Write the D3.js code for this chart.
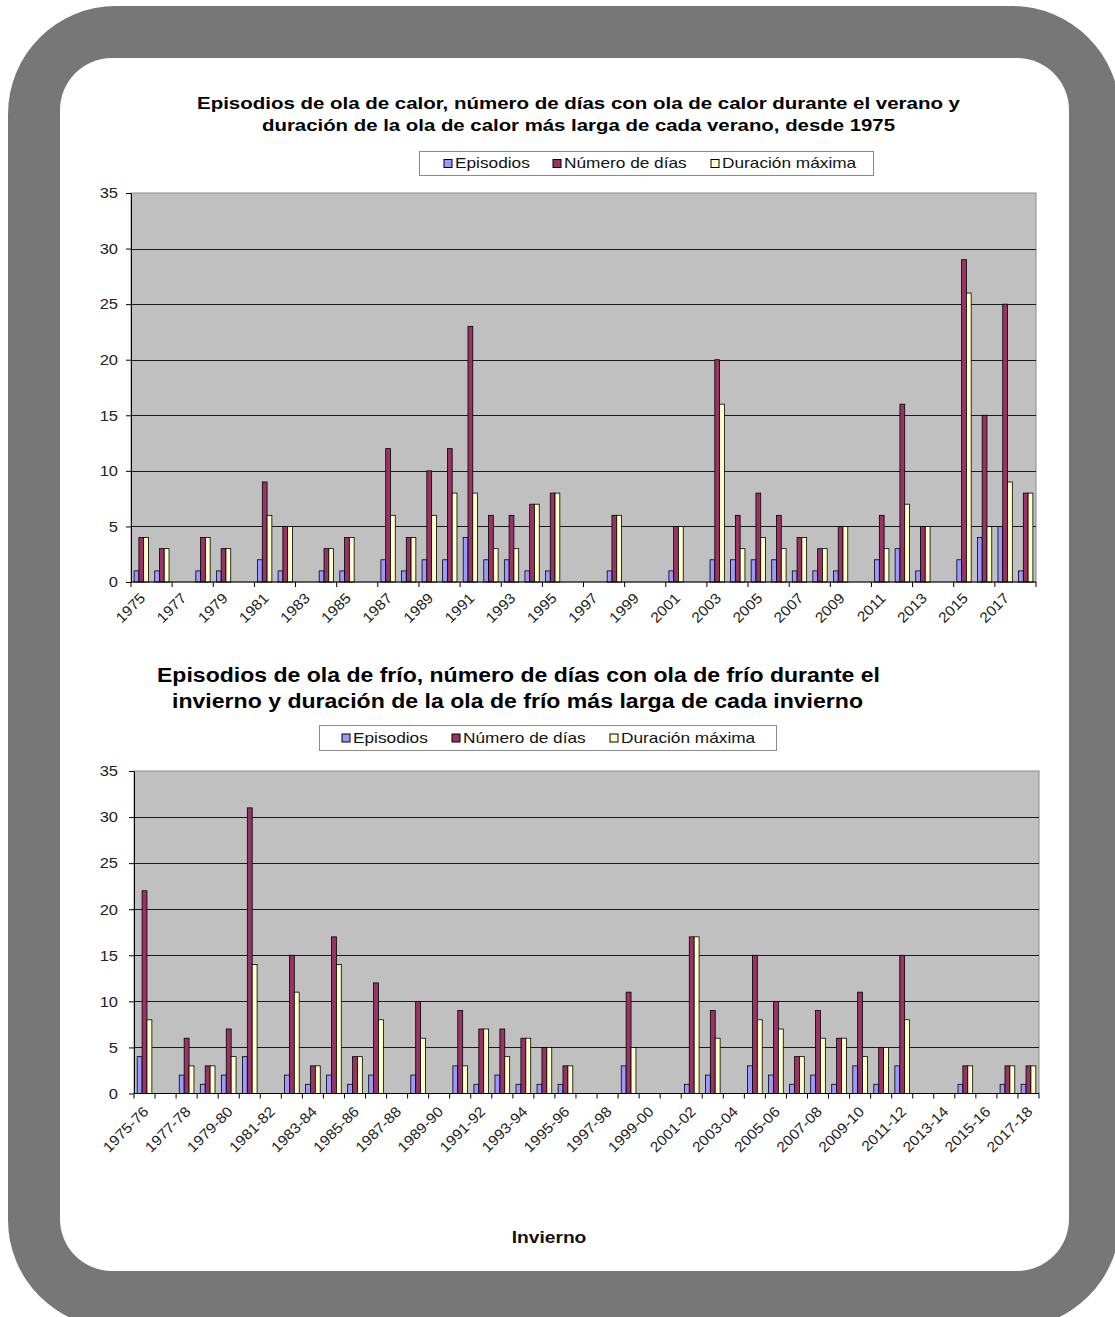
<!DOCTYPE html>
<html><head><meta charset="utf-8">
<script src="https://cdn.jsdelivr.net/npm/d3@7/dist/d3.min.js"></script>
<style>
body{margin:0;background:#fff}
svg{display:block}
text{font-family:"Liberation Sans",Arial,sans-serif}
</style>
</head><body>
<svg id="c" width="1115" height="1317"></svg>
<script>
// ---------------- DATA ----------------
const veranoYears = ["1975","1976","1977","1978","1979","1980","1981","1982","1983","1984","1985","1986","1987","1988","1989","1990","1991","1992","1993","1994","1995","1996","1997","1998","1999","2000","2001","2002","2003","2004","2005","2006","2007","2008","2009","2010","2011","2012","2013","2014","2015","2016","2017","2018"];
const veranoEpisodios = [1,1,null,1,1,null,2,1,null,1,1,null,2,1,2,2,4,2,2,1,1,null,null,1,null,null,1,null,2,2,2,2,1,1,1,null,2,3,1,null,2,4,5,1];
const veranoDias      = [4,3,null,4,3,null,9,5,null,3,4,null,12,4,10,12,23,6,6,7,8,null,null,6,null,null,5,null,20,6,8,6,4,3,5,null,6,16,5,null,29,15,25,8];
const veranoDuracion  = [4,3,null,4,3,null,6,5,null,3,4,null,6,4,6,8,8,3,3,7,8,null,null,6,null,null,5,null,16,3,4,3,4,3,5,null,3,7,5,null,26,5,9,8];

const inviernoYears = ["1975-76","1976-77","1977-78","1978-79","1979-80","1980-81","1981-82","1982-83","1983-84","1984-85","1985-86","1986-87","1987-88","1988-89","1989-90","1990-91","1991-92","1992-93","1993-94","1994-95","1995-96","1996-97","1997-98","1998-99","1999-00","2000-01","2001-02","2002-03","2003-04","2004-05","2005-06","2006-07","2007-08","2008-09","2009-10","2010-11","2011-12","2012-13","2013-14","2014-15","2015-16","2016-17","2017-18"];
const inviernoEpisodios = [4,null,2,1,2,4,null,2,1,2,1,2,null,2,null,3,1,2,1,1,1,null,null,3,null,null,1,2,null,3,2,1,2,1,3,1,3,null,null,1,null,1,1];
const inviernoDias      = [22,null,6,3,7,31,null,15,3,17,4,12,null,10,null,9,7,7,6,5,3,null,null,11,null,null,17,9,null,15,10,4,9,6,11,5,15,null,null,3,null,3,3];
const inviernoDuracion  = [8,null,3,3,4,14,null,11,3,14,4,8,null,6,null,3,7,4,6,5,3,null,null,5,null,null,17,6,null,8,7,4,6,6,4,5,8,null,null,3,null,3,3];

const yTicks = [0,5,10,15,20,25,30,35];
const seriesNames = ["Episodios","Número de días","Duración máxima"];
const seriesColors = ["#9999FF","#993366","#FFFFCC"];
const titleCalor = ["Episodios de ola de calor, número de días con ola de calor durante el verano y","duración de la ola de calor más larga de cada verano, desde 1975"];
const titleFrio = ["Episodios de ola de frío, número de días con ola de frío durante el","invierno y duración de la ola de frío más larga de cada invierno"];
const xTitleFrio = "Invierno";

// ---------------- DRAW ----------------
const svg = d3.select("#c");

function stretch(sel, k){
  sel.each(function(){
    const l = this.getComputedTextLength();
    this.setAttribute("textLength", l*k);
    this.setAttribute("lengthAdjust","spacingAndGlyphs");
  });
}

// frame
svg.append("rect").attr("x",8).attr("y",6).attr("width",1112).attr("height",1322)
  .attr("rx",108).attr("ry",108).attr("fill","#777777");
svg.append("rect").attr("x",60).attr("y",58).attr("width",1009).attr("height",1213)
  .attr("rx",52).attr("ry",52).attr("fill","#ffffff");

function drawChart(cfg){
  const g = svg.append("g");
  const {x0,x1,y0,y1} = cfg.plot;
  const x = d3.scaleBand().domain(cfg.cats).range([x0,x1]).paddingInner(0).paddingOuter(0);
  const y = d3.scaleLinear().domain([0,35]).range([y1,y0]);
  const step = x.step();
  const w = step/4.3;
  const off = (step-3*w)/2;

  g.append("rect").attr("x",x0).attr("y",y0).attr("width",x1-x0).attr("height",y1-y0)
    .attr("fill","#C0C0C0").attr("stroke","#8a8a8a").attr("stroke-width",1);

  g.append("g").selectAll("line").data(yTicks.filter(t=>t>0 && t<35)).join("line")
    .attr("x1",x0).attr("x2",x1)
    .attr("y1",d=>Math.round(y(d))+0.5).attr("y2",d=>Math.round(y(d))+0.5)
    .attr("stroke","#1a1a1a").attr("stroke-width",1.2);

  cfg.series.forEach((vals,s)=>{
    g.append("g").selectAll("rect")
      .data(vals.map((v,i)=>({v,c:cfg.cats[i]})).filter(d=>d.v!=null))
      .join("rect")
      .attr("x",d=>x(d.c)+off+s*w)
      .attr("y",d=>y(d.v))
      .attr("width",w)
      .attr("height",d=>y(0)-y(d.v))
      .attr("fill",seriesColors[s])
      .attr("stroke","#000").attr("stroke-width",0.8);
  });

  const ya = g.append("g").attr("transform",`translate(${x0},0)`)
    .call(d3.axisLeft(y).tickValues(yTicks).tickSize(5).tickPadding(cfg.yPad).tickSizeOuter(0));
  ya.select(".domain").attr("stroke","#000");
  ya.selectAll(".tick line").attr("stroke","#000");
  ya.selectAll("text").attr("font-family",'"Liberation Sans",Arial,sans-serif')
    .attr("font-size",15).attr("fill","#222");
  stretch(ya.selectAll("text"),1.1);

  g.append("line").attr("x1",x0).attr("x2",x1).attr("y1",y1).attr("y2",y1)
    .attr("stroke","#000").attr("stroke-width",1);
  const bounds = d3.range(0,cfg.cats.length+1,cfg.tickEvery);
  g.append("g").selectAll("line").data(bounds).join("line")
    .attr("x1",i=>x0+i*step).attr("x2",i=>x0+i*step)
    .attr("y1",y1).attr("y2",y1+5).attr("stroke","#000").attr("stroke-width",1);

  const xa = g.append("g").attr("transform",`translate(0,${y1})`)
    .call(d3.axisBottom(x).tickValues(cfg.cats.filter((d,i)=>i%2===0)).tickSize(0));
  xa.select(".domain").remove();
  xa.selectAll("text")
    .attr("x",0).attr("y",0).attr("dy",0)
    .attr("transform",`translate(${cfg.lx},${cfg.ly}) rotate(-45)`)
    .attr("text-anchor","end")
    .attr("font-family",'"Liberation Sans",Arial,sans-serif')
    .attr("font-size",14.5).attr("fill","#222");
  stretch(xa.selectAll("text"),1.08);

  cfg.title.forEach((t,i)=>{
    g.append("text").attr("x",cfg.titlePos[i][0]).attr("y",cfg.titlePos[i][1])
      .attr("font-size",cfg.titleSize).attr("font-weight","bold").attr("fill","#000")
      .attr("textLength",cfg.titlePos[i][2]).attr("lengthAdjust","spacingAndGlyphs")
      .text(t);
  });

  const L = cfg.legend;
  g.append("rect").attr("x",L.x).attr("y",L.y).attr("width",L.w).attr("height",L.h)
    .attr("fill","#fff").attr("stroke","#8a8a8a").attr("stroke-width",1);
  seriesNames.forEach((n,s)=>{
    g.append("rect").attr("x",L.mx[s]).attr("y",L.my).attr("width",8).attr("height",8)
      .attr("fill",seriesColors[s]).attr("stroke","#000").attr("stroke-width",1);
    const t = g.append("text").attr("x",L.mx[s]+11).attr("y",L.ty)
      .attr("font-size",15).attr("fill","#111").text(n);
    stretch(t,1.15);
  });

  if(cfg.xTitle){
    const t = g.append("text").attr("x",cfg.xTitle[1]).attr("y",cfg.xTitle[2])
      .attr("text-anchor","middle").attr("font-size",16).attr("font-weight","bold")
      .attr("fill","#111").text(cfg.xTitle[0]);
    stretch(t,1.2);
  }
}

drawChart({
  cats: veranoYears,
  series: [veranoEpisodios, veranoDias, veranoDuracion],
  plot: {x0:131, x1:1036, y0:193, y1:582},
  yPad: 8, tickEvery: 2, lx: 5, ly: 17,
  title: titleCalor, titleSize: 16,
  titlePos: [[197,109,763],[262,131,633]],
  legend: {x:419.5, y:151.5, w:454, h:24, mx:[444,553,711], my:159.5, ty:168},
  xTitle: null
});

drawChart({
  cats: inviernoYears,
  series: [inviernoEpisodios, inviernoDias, inviernoDuracion],
  plot: {x0:134, x1:1039, y0:771, y1:1093.5},
  yPad: 11, tickEvery: 1, lx: 5, ly: 19,
  title: titleFrio, titleSize: 20,
  titlePos: [[157,682,723],[172,708,691]],
  legend: {x:319.5, y:725.5, w:457, h:25, mx:[342,452,610], my:734, ty:743},
  xTitle: [xTitleFrio, 549, 1243]
});
</script>
</body></html>
